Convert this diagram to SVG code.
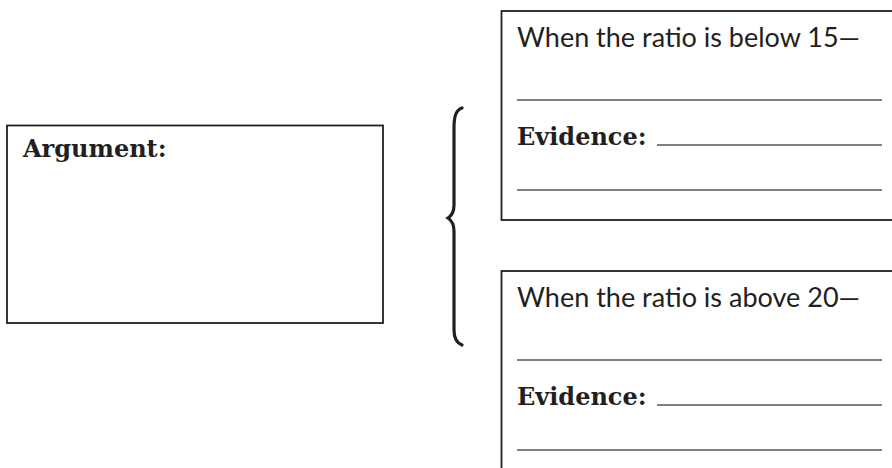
<svg xmlns="http://www.w3.org/2000/svg" width="892" height="468" viewBox="0 0 892 468">
<style>
.box{fill:#fff;stroke:#231f20;stroke-width:1.8}
.rule{stroke:#555;stroke-width:1.4}
.sans{font-family:Lato,"Open Sans","Liberation Sans",sans-serif;font-size:26px;fill:#231f20}
.bold{font-family:"DejaVu Serif","Liberation Serif",serif;font-weight:bold;font-size:24px;fill:#231f20}
.brace{fill:none;stroke:#231f20;stroke-width:3.2;stroke-linecap:round}
</style>
<rect width="892" height="468" fill="#fff"/>
<g id="argument">
<rect class="box" x="7" y="125.5" width="376" height="197.5"/>
<text class="bold" x="23" y="157">Argument:</text>
</g>
<g id="connectors">
<path class="brace" d="M462,108 C456,110 454,116 454,128 L454,205 C454,212 451,216 448,218 C451,220 454,224 454,231 L454,330 C454,338 457,343 462,345"/>
</g>
<g id="below15">
<rect class="box" x="501.5" y="11" width="400" height="209"/>
<text class="sans" x="517" y="47" textLength="343" lengthAdjust="spacingAndGlyphs">When the ratio is below 15—</text>
<line class="rule" x1="517" y1="100" x2="882" y2="100"/>
<text class="bold" x="517" y="145">Evidence:</text>
<line class="rule" x1="657" y1="145" x2="882" y2="145"/>
<line class="rule" x1="517" y1="190" x2="882" y2="190"/>
</g>
<g id="above20">
<rect class="box" x="501.5" y="271" width="400" height="220"/>
<text class="sans" x="517" y="307" textLength="343" lengthAdjust="spacingAndGlyphs">When the ratio is above 20—</text>
<line class="rule" x1="517" y1="360" x2="882" y2="360"/>
<text class="bold" x="517" y="405">Evidence:</text>
<line class="rule" x1="657" y1="405" x2="882" y2="405"/>
<line class="rule" x1="517" y1="450" x2="882" y2="450"/>
</g>
</svg>
